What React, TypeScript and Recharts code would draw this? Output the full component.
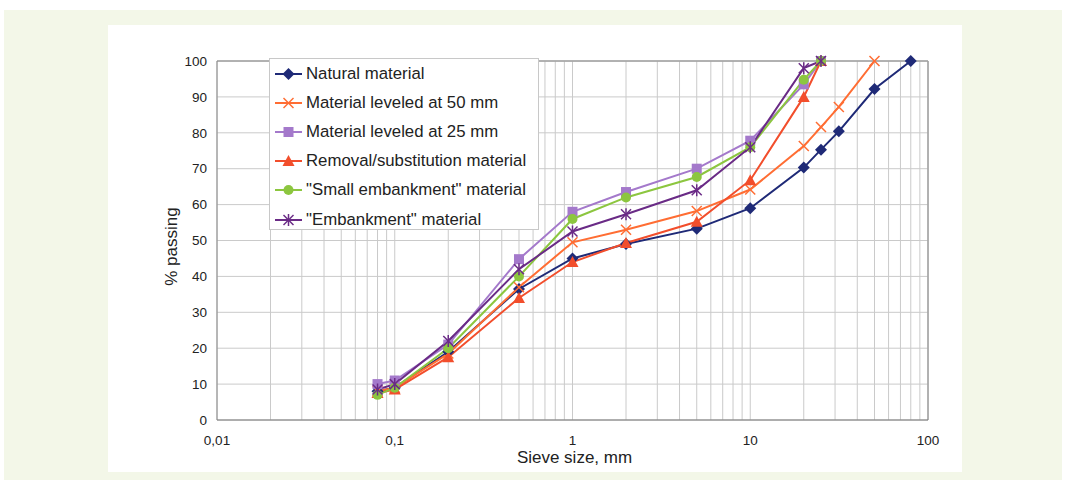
import React from "react";
import {
  LineChart,
  Line,
  XAxis,
  YAxis,
  CartesianGrid,
  ReferenceLine,
  Label,
} from "recharts";

// sieve sizes (mm)
const sizesNatural = [0.08, 0.1, 0.2, 0.5, 1, 2, 5, 10, 20, 25, 31.5, 50, 80];
const sizes50 = [0.08, 0.1, 0.2, 0.5, 1, 2, 5, 10, 20, 25, 31.5, 50];
const sizes25 = [0.08, 0.1, 0.2, 0.5, 1, 2, 5, 10, 20, 25];

// % passing
const natural = [8, 9, 19, 36.5, 45, 49, 53.3, 59, 70.3, 75.3, 80.4, 92.2, 100];
const leveled50 = [8, 9, 18.5, 37, 49.5, 53, 58.2, 64.2, 76.3, 81.6, 87.2, 100];
const leveled25 = [10, 11, 21, 44.8, 58, 63.5, 70, 77.8, 93.5, 100];
const removal = [7.5, 8.5, 17.5, 34, 44, 49.3, 55.2, 66.8, 90, 100];
const smallEmb = [7, 9, 20, 40, 56, 62, 67.7, 76, 94.8, 100];
const embankment = [8.5, 10, 22, 42, 52.5, 57.3, 64, 76, 98, 100];

const xTicks = [
  0.01, 0.02, 0.03, 0.04, 0.05, 0.06, 0.07, 0.08, 0.09,
  0.1, 0.2, 0.3, 0.4, 0.5, 0.6, 0.7, 0.8, 0.9,
  1, 2, 3, 4, 5, 6, 7, 8, 9,
  10, 20, 30, 40, 50, 60, 70, 80, 90, 100,
];
const xMajor = [0.01, 0.1, 1, 10, 100];
const xLabels = ["0,01", "0,1", "1", "10", "100"];
const yTicks = [0, 10, 20, 30, 40, 50, 60, 70, 80, 90, 100];

const FONT = '"Liberation Sans", Arial, Helvetica, sans-serif';

type Shape = "diamond" | "cross" | "square" | "triangle" | "circle" | "star";

const toRows = (xs: number[], ys: number[]) => xs.map((x, i) => ({ x, y: ys[i] }));

const series: { name: string; color: string; shape: Shape; data: { x: number; y: number }[] }[] = [
  { name: "Natural material", color: "#1f2a77", shape: "diamond", data: toRows(sizesNatural, natural) },
  { name: "Material leveled at 50 mm", color: "#ff6d33", shape: "cross", data: toRows(sizes50, leveled50) },
  { name: "Material leveled at 25 mm", color: "#a479cb", shape: "square", data: toRows(sizes25, leveled25) },
  { name: "Removal/substitution material", color: "#f24e2c", shape: "triangle", data: toRows(sizes25, removal) },
  { name: '"Small embankment" material', color: "#8cc63f", shape: "circle", data: toRows(sizes25, smallEmb) },
  { name: '"Embankment" material', color: "#6a2b86", shape: "star", data: toRows(sizes25, embankment) },
];

function Marker({ shape, cx, cy, color }: { shape: Shape; cx: number; cy: number; color: string }) {
  if (cx == null || cy == null) return null;
  switch (shape) {
    case "diamond":
      return <polygon points={`${cx},${cy - 6} ${cx + 6},${cy} ${cx},${cy + 6} ${cx - 6},${cy}`} fill={color} />;
    case "square":
      return <rect x={cx - 5} y={cy - 5} width={10} height={10} fill={color} />;
    case "triangle":
      return <polygon points={`${cx},${cy - 6} ${cx + 6},${cy + 5} ${cx - 6},${cy + 5}`} fill={color} />;
    case "circle":
      return <circle cx={cx} cy={cy} r={5} fill={color} />;
    case "cross":
      return (
        <g stroke={color} strokeWidth={1.5}>
          <line x1={cx - 5} y1={cy - 5} x2={cx + 5} y2={cy + 5} />
          <line x1={cx - 5} y1={cy + 5} x2={cx + 5} y2={cy - 5} />
        </g>
      );
    case "star":
      return (
        <g stroke={color} strokeWidth={1.5}>
          <line x1={cx - 5} y1={cy - 5} x2={cx + 5} y2={cy + 5} />
          <line x1={cx - 5} y1={cy + 5} x2={cx + 5} y2={cy - 5} />
          <line x1={cx} y1={cy - 6} x2={cx} y2={cy + 6} />
        </g>
      );
  }
  return null;
}

const xFormat = (v: number) => {
  const i = xMajor.indexOf(v);
  return i >= 0 ? xLabels[i] : "";
};

function GradingLegend() {
  return (
    <div
      style={{
        position: "absolute",
        left: 269,
        top: 58,
        width: 270,
        height: 172,
        border: "1px solid #c8c8c8",
        background: "#fff",
        fontFamily: FONT,
        fontSize: 16.8,
        color: "#222",
        boxSizing: "border-box",
      }}
    >
      {series.map((s) => (
        <div key={s.name} style={{ height: 29.2, display: "flex", alignItems: "center" }}>
          <svg width={30} height={14} style={{ marginLeft: 5, flexShrink: 0 }}>
            <line x1={0} y1={7} x2={27} y2={7} stroke={s.color} strokeWidth={2} />
            <Marker shape={s.shape} cx={13.5} cy={7} color={s.color} />
          </svg>
          <span style={{ marginLeft: 1, whiteSpace: "nowrap" }}>{s.name}</span>
        </div>
      ))}
    </div>
  );
}

export default function App() {
  return (
    <div style={{ position: "absolute", left: 0, top: 0, width: 1066, height: 480, background: "#fff" }}>
      <div style={{ position: "absolute", left: 4, top: 10, width: 1058, height: 470, background: "#f3f7e8" }} />
      <div style={{ position: "absolute", left: 108, top: 25, width: 854, height: 447, background: "#fff" }}>
        <LineChart width={854} height={447} margin={{ top: 36, right: 34, bottom: 22, left: 69 }}>
          <CartesianGrid stroke="#cacaca" />
          <XAxis
            dataKey="x"
            type="number"
            scale="log"
            domain={[0.01, 100]}
            ticks={xTicks}
            interval={0}
            allowDataOverflow
            tickFormatter={xFormat}
            tickLine={false}
            tickSize={0}
            tickMargin={15}
            height={30}
            stroke="#777"
            tick={{ fill: "#222", fontSize: 13.5, fontFamily: FONT }}
          >
            <Label
              content={({ viewBox }: any) => (
                <text
                  x={viewBox.x + viewBox.width / 2 + 2}
                  y={viewBox.y + 43}
                  textAnchor="middle"
                  fontFamily={FONT}
                  fontSize={17}
                  fill="#222"
                >
                  Sieve size, mm
                </text>
              )}
            />
          </XAxis>
          <YAxis
            type="number"
            domain={[0, 100]}
            ticks={yTicks}
            interval={0}
            width={40}
            tickLine={false}
            tickSize={0}
            tickMargin={10}
            stroke="#888"
            tick={{ fill: "#222", fontSize: 13.5, fontFamily: FONT }}
          >
            <Label
              content={({ viewBox }: any) => {
                const x = viewBox.x;
                const y = viewBox.y + viewBox.height / 2 + 6;
                return (
                  <text
                    x={x}
                    y={y}
                    transform={`rotate(-90, ${x}, ${y})`}
                    textAnchor="middle"
                    fontFamily={FONT}
                    fontSize={17}
                    fill="#222"
                  >
                    % passing
                  </text>
                );
              }}
            />
          </YAxis>
          <ReferenceLine y={100} stroke="#a0a0a0" strokeWidth={1.5} />
          <ReferenceLine x={100} stroke="#a0a0a0" strokeWidth={1.5} />
          {series.map((s) => (
            <Line
              key={s.name}
              data={s.data}
              dataKey="y"
              name={s.name}
              stroke={s.color}
              strokeWidth={2}
              isAnimationActive={false}
              dot={(p: any) => (
                <Marker key={`${s.name}-${p.index}`} shape={s.shape} cx={p.cx} cy={p.cy} color={s.color} />
              )}
              activeDot={false}
            />
          ))}
        </LineChart>
      </div>
      <GradingLegend />
    </div>
  );
}
